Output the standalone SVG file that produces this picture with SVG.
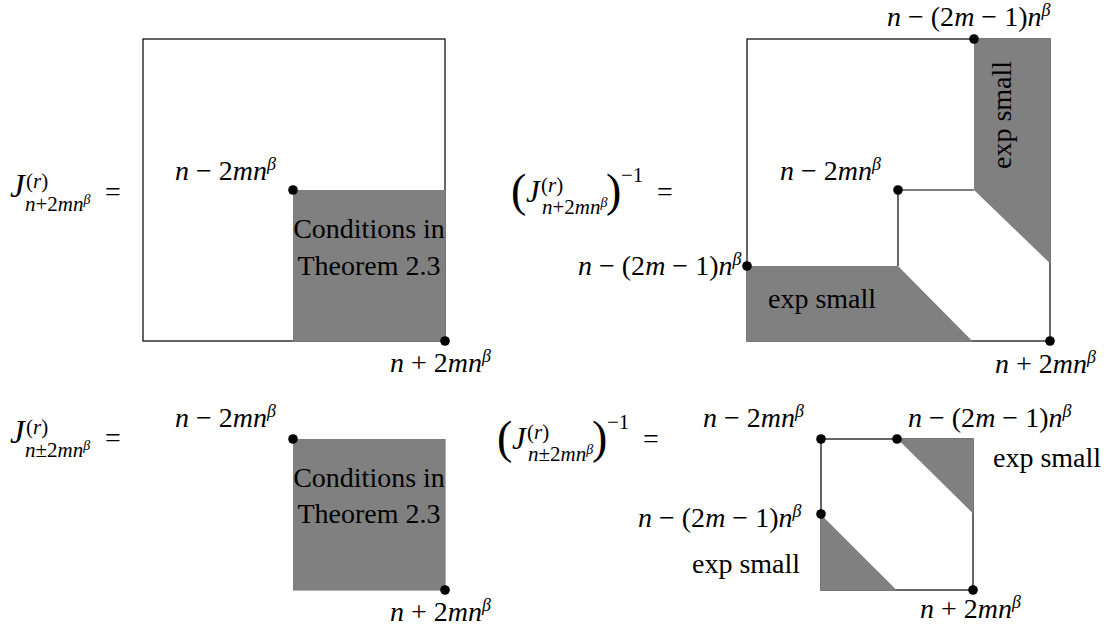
<svg xmlns="http://www.w3.org/2000/svg" width="1111" height="634" viewBox="0 0 1111 634">
<style>
.t{font-family:"Liberation Serif","Times New Roman",serif;font-size:28px;fill:#000}
.i{font-style:italic}
.J{font-size:33px}
.s{font-size:21px}
.b{font-size:18px}
.ss{font-size:14px}
.p{font-size:46px}
.box{fill:none;stroke:#000;stroke-width:1.2}
.g{fill:#808080;stroke:none}
.dot{fill:#000}
</style>
<rect width="1111" height="634" fill="#fff"/>

<g id="panel-top-left">
  <rect class="box" x="143" y="39" width="302" height="302"/>
  <rect class="g" x="293" y="190" width="152.6" height="151.6"/>
  <circle class="dot" cx="293" cy="190" r="4.8"/>
  <circle class="dot" cx="445" cy="341" r="4.8"/>
  <text class="t J i" x="10" y="197">J</text>
  <text class="t s" x="26" y="188">(<tspan class="i">r</tspan>)</text>
  <text class="t s" x="25" y="211"><tspan class="i">n</tspan>+2<tspan class="i">mn</tspan><tspan class="ss i" dy="-7">β</tspan></text>
  <text class="t" x="105" y="201">=</text>
  <text class="t" x="175" y="180"><tspan class="i">n</tspan> − 2<tspan class="i">mn</tspan><tspan class="b i" dy="-10">β</tspan></text>
  <text class="t" x="369" y="238" text-anchor="middle">Conditions in</text>
  <text class="t" x="369" y="275" text-anchor="middle">Theorem 2.3</text>
  <text class="t" x="390" y="372"><tspan class="i">n</tspan> + 2<tspan class="i">mn</tspan><tspan class="b i" dy="-10">β</tspan></text>
</g>

<g id="panel-top-right">
  <rect class="box" x="747" y="39" width="303" height="302"/>
  <polygon class="g" points="974,38.3 1050.7,38.3 1050.7,264 974,190"/>
  <polygon class="g" points="746.3,266 898,266 973,341.7 746.3,341.7"/>
  <path class="box" d="M898,266 V190 H974"/>
  <circle class="dot" cx="974" cy="39" r="4.8"/>
  <circle class="dot" cx="898" cy="190" r="4.8"/>
  <circle class="dot" cx="747" cy="266" r="4.8"/>
  <circle class="dot" cx="1050" cy="341" r="4.8"/>
  <text class="t p" x="511" y="206">(</text>
  <text class="t i" x="526" y="202" style="font-size:31px">J</text>
  <text class="t s" x="541" y="192">(<tspan class="i">r</tspan>)</text>
  <text class="t s" x="542" y="214"><tspan class="i">n</tspan>+2<tspan class="i">mn</tspan><tspan class="ss i" dy="-7">β</tspan></text>
  <text class="t p" x="606" y="206">)</text>
  <text class="t s" x="621" y="182">−1</text>
  <text class="t" x="657" y="201">=</text>
  <text class="t" x="887" y="26"><tspan class="i">n</tspan> − (2<tspan class="i">m</tspan> − 1)<tspan class="i">n</tspan><tspan class="b i" dy="-10">β</tspan></text>
  <text class="t" x="780" y="180"><tspan class="i">n</tspan> − 2<tspan class="i">mn</tspan><tspan class="b i" dy="-10">β</tspan></text>
  <text class="t" x="578" y="275"><tspan class="i">n</tspan> − (2<tspan class="i">m</tspan> − 1)<tspan class="i">n</tspan><tspan class="b i" dy="-10">β</tspan></text>
  <text class="t" x="822" y="308" text-anchor="middle">exp small</text>
  <text class="t" transform="translate(1011,115) rotate(-90)" text-anchor="middle">exp small</text>
  <text class="t" x="995" y="373"><tspan class="i">n</tspan> + 2<tspan class="i">mn</tspan><tspan class="b i" dy="-10">β</tspan></text>
</g>

<g id="panel-bottom-left">
  <rect class="g" x="293" y="439" width="152.6" height="151.6"/>
  <circle class="dot" cx="293" cy="439" r="4.8"/>
  <circle class="dot" cx="445" cy="590" r="4.8"/>
  <text class="t J i" x="10" y="443">J</text>
  <text class="t s" x="26" y="434">(<tspan class="i">r</tspan>)</text>
  <text class="t s" x="25" y="457"><tspan class="i">n</tspan>±2<tspan class="i">mn</tspan><tspan class="ss i" dy="-7">β</tspan></text>
  <text class="t" x="105" y="447">=</text>
  <text class="t" x="175" y="427"><tspan class="i">n</tspan> − 2<tspan class="i">mn</tspan><tspan class="b i" dy="-10">β</tspan></text>
  <text class="t" x="369" y="487" text-anchor="middle">Conditions in</text>
  <text class="t" x="369" y="523" text-anchor="middle">Theorem 2.3</text>
  <text class="t" x="390" y="621"><tspan class="i">n</tspan> + 2<tspan class="i">mn</tspan><tspan class="b i" dy="-10">β</tspan></text>
</g>

<g id="panel-bottom-right">
  <rect class="box" x="821" y="439" width="152" height="151"/>
  <polygon class="g" points="897,438.4 973.6,438.4 973.6,514"/>
  <polygon class="g" points="820.4,514 820.4,590.6 897,590.6"/>
  <circle class="dot" cx="821" cy="439" r="4.8"/>
  <circle class="dot" cx="897" cy="439" r="4.8"/>
  <circle class="dot" cx="821" cy="514" r="4.8"/>
  <circle class="dot" cx="973" cy="590" r="4.8"/>
  <text class="t p" x="497" y="453">(</text>
  <text class="t i" x="512" y="449" style="font-size:31px">J</text>
  <text class="t s" x="527" y="439">(<tspan class="i">r</tspan>)</text>
  <text class="t s" x="528" y="461"><tspan class="i">n</tspan>±2<tspan class="i">mn</tspan><tspan class="ss i" dy="-7">β</tspan></text>
  <text class="t p" x="592" y="453">)</text>
  <text class="t s" x="607" y="429">−1</text>
  <text class="t" x="643" y="448">=</text>
  <text class="t" x="703" y="427"><tspan class="i">n</tspan> − 2<tspan class="i">mn</tspan><tspan class="b i" dy="-10">β</tspan></text>
  <text class="t" x="908" y="427"><tspan class="i">n</tspan> − (2<tspan class="i">m</tspan> − 1)<tspan class="i">n</tspan><tspan class="b i" dy="-10">β</tspan></text>
  <text class="t" x="993" y="467">exp small</text>
  <text class="t" x="638" y="527"><tspan class="i">n</tspan> − (2<tspan class="i">m</tspan> − 1)<tspan class="i">n</tspan><tspan class="b i" dy="-10">β</tspan></text>
  <text class="t" x="692" y="573">exp small</text>
  <text class="t" x="920" y="618"><tspan class="i">n</tspan> + 2<tspan class="i">mn</tspan><tspan class="b i" dy="-10">β</tspan></text>
</g>

<g id="connectors"></g>
</svg>
